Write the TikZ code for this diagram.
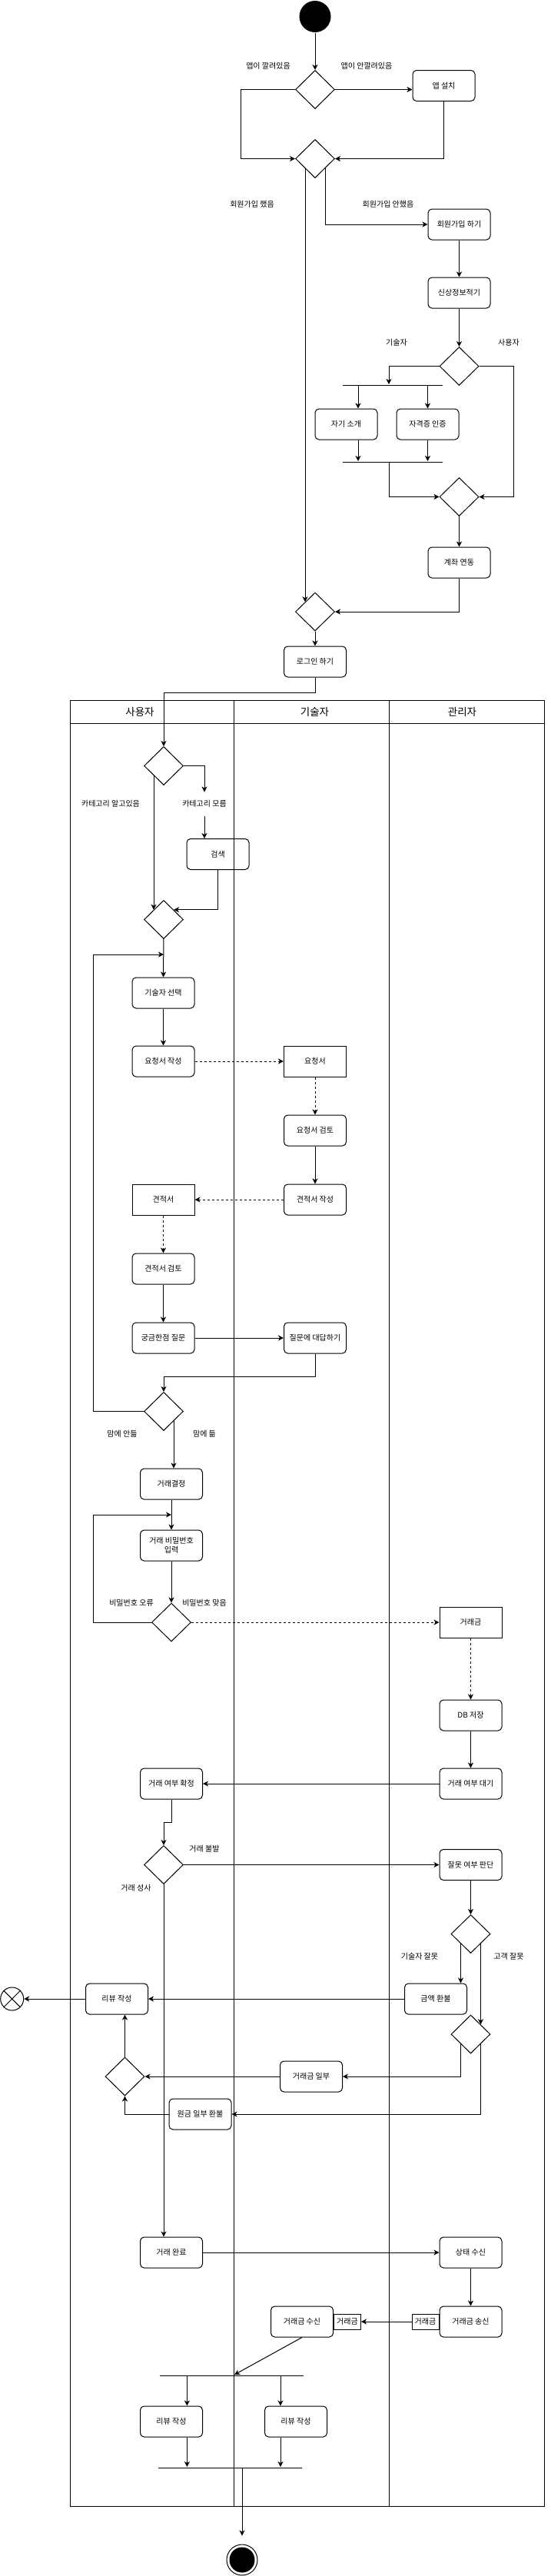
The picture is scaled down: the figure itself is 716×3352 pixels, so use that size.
\documentclass[tikz,border=0pt]{standalone}
\usepackage{fontspec}
\setmainfont{Noto Sans CJK KR}
\usetikzlibrary{shapes.geometric,arrows.meta,calc}
\newcommand\boxfont{\fontsize{10pt}{12pt}\selectfont}
\newcommand\headfont{\fontsize{13.5pt}{16pt}\selectfont}
\begin{document}
\begin{tikzpicture}[x=1pt,y=-1pt,line width=1pt,
 act/.style={draw, rounded corners=5pt, minimum width=81pt, minimum height=40pt, inner sep=1pt, font=\boxfont, align=center},
 obj/.style={draw, minimum width=81pt, minimum height=40pt, inner sep=1pt, font=\boxfont},
 dec/.style={draw, diamond, minimum width=51pt, minimum height=50pt, inner sep=0pt},
 bar/.style={fill=black, minimum height=1pt, inner sep=0pt},
 lbl/.style={font=\boxfont, inner sep=1pt},
 arr/.style={-{Stealth[length=7pt,width=7pt,inset=2pt]}},
 dsh/.style={arr, dash pattern=on 3pt off 3pt},
 pin/.style={draw, minimum width=35pt, minimum height=20pt, inner sep=0pt, font=\boxfont}]
\useasboundingbox (0,0) rectangle (716,3352);

% ---------- top part ----------
\node[circle, fill=black, minimum size=41pt, inner sep=0pt] (start) at (410,21.5) {};
\node[dec] (d1) at (410,116.5) {};
\node[act] (appinst) at (577.5,111.5) {앱 설치};
\node[lbl] at (349,86) {앱이 깔려있음};
\node[lbl] at (477,86) {앱이 안깔려있음};
\node[dec] (d2) at (410,206.5) {};
\node[lbl] at (328,266) {회원가입 했음};
\node[lbl] at (505,266) {회원가입 안했음};
\node[act] (signup) at (597.5,292) {회원가입 하기};
\node[act] (profile) at (597.5,381) {신상정보적기};
\node[dec] (d3) at (597.5,476.5) {};
\node[lbl] at (516,446) {기술자};
\node[lbl] at (662,446) {사용자};
\node[bar, minimum width=130pt] (fork1) at (511,501) {};
\node[act] (intro) at (450.5,552) {자기 소개};
\node[act] (cert) at (556.5,552) {자격증 인증};
\node[bar, minimum width=130pt] (join1) at (511,601) {};
\node[dec] (d4) at (597.5,646.5) {};
\node[act] (acct) at (597.5,732) {계좌 연동};
\node[dec] (d5) at (410,796) {};
\node[act] (login) at (410,861) {로그인 하기};

\draw[arr] (start) -- (d1);
\draw[arr] (d1.east) -- (d1.east -| appinst.west);
\draw[arr] (d1.west) -- ++(-70.5,0) |- (d2.west);
\draw[arr] (appinst.south) |- (d2.east);
\draw[arr] (d2.south east) |- (signup.west);
\draw[arr] (d2.south west) -- (d2.south west |- d5.north west);
\draw[arr] (signup) -- (profile);
\draw[arr] (profile) -- (d3);
\draw[arr] (d3.west) -| ([xshift=-5pt]fork1.north);
\draw[arr] ([xshift=-45pt]fork1.south) -- ([xshift=15.5pt]intro.north);
\draw[arr] (fork1.south -| cert.north) -- (cert.north);
\draw[arr] ([xshift=15.5pt]intro.south) -- ([xshift=15.5pt]intro.south |- join1.north);
\draw[arr] (cert.south) -- (cert.south |- join1.north);
\draw[arr] ([xshift=-5pt]join1.south) |- (d4.west);
\draw[arr] (d3.east) -- ++(45,0) |- (d4.east);
\draw[arr] (d4) -- (acct);
\draw[arr] (acct.south) |- (d5.east);
\draw[arr] (d5) -- (login);

% ---------- swimlanes ----------
\draw (91.5,911) rectangle (708,3261);
\draw (91.5,941) -- (708,941);
\draw (304,911) -- (304,3261);
\draw (506,911) -- (506,3261);
\node[font=\headfont] (hU) at (182,926) {사용자};
\node[font=\headfont] (hT) at (409.5,926) {기술자};
\node[font=\headfont] (hA) at (601.5,926) {관리자};

% ---------- user lane ----------
\node[dec] (d6) at (213,996.5) {};
\draw[arr] (login.south) -- ++(0,20) -| (d6.north);
\node[lbl] at (144,1046) {카테고리 알고있음};
\node[lbl, minimum height=30pt] (catno) at (266,1046) {카테고리 모름};
\node[act] (search) at (283.5,1111.5) {검색};
\node[dec] (d7) at (213,1196.5) {};
\draw[arr] (d6.east) -| (catno.north);
\draw[arr] (catno.south) -- (catno.south |- search.north);
\draw[arr] (d6.south west) -- (d6.south west |- d7.north west);
\draw[arr] (search.south) |- (d7.north east);

\node[act] (techsel) at (212.5,1292) {기술자 선택};
\coordinate (m1) at (213,1242);
\draw[arr] (d7) -- (techsel);
\node[act] (reqw) at (212.5,1381) {요청서 작성};
\draw[arr] (techsel) -- (reqw);
\node[obj] (req) at (410,1381) {요청서};
\draw[dsh] (reqw) -- (req);
\node[act] (reqr) at (410,1471) {요청서 검토};
\draw[dsh] (req) -- (reqr);
\node[act] (estw) at (410,1561) {견적서 작성};
\draw[arr] (reqr) -- (estw);
\node[obj] (est) at (212.5,1561) {견적서};
\draw[dsh] (estw) -- (est);
\node[act] (estr) at (212.5,1651) {견적서 검토};
\draw[dsh] (est) -- (estr);
\node[act] (ask) at (212.5,1741) {궁금한점 질문};
\draw[arr] (estr) -- (ask);
\node[act] (answer) at (410,1741) {질문에 대답하기};
\draw[arr] (ask) -- (answer);
\node[dec] (d8) at (213,1836.5) {};
\draw[arr] (answer.south) -- ++(0,30) -| (d8.north);
\draw[arr] (d8.west) -- ++(-65.5,0) |- (m1);
\node[lbl] at (159,1866) {맘에 안듦};
\node[lbl] at (266,1866) {맘에 듦};
\node[act] (decide) at (223,1931) {거래결정};
\draw[arr] (d8.south east) -- (d8.south east |- decide.north);
\node[act] (pwd) at (223,2011) {거래 비밀번호\\입력};
\coordinate (m2) at ($(decide.south)!0.5!(pwd.north)$);
\draw[arr] (decide) -- (pwd);
\node[dec] (d9) at (223,2111) {};
\draw[arr] (pwd) -- (d9);
\draw[arr] (d9.west) -- ++(-76,0) |- (m2);
\node[lbl] at (171,2086) {비밀번호 오류};
\node[lbl] at (266,2086) {비밀번호 맞음};
\node[obj] (fee) at (612.5,2111) {거래금};
\draw[dsh] (d9.east) -- (fee.west);
\node[act] (db) at (612.5,2232) {DB 저장};
\draw[dsh] (fee) -- (db);
\node[act] (wait) at (612.5,2321) {거래 여부 대기};
\draw[arr] (db) -- (wait);
\node[act] (confirm) at (223,2321) {거래 여부 확정};
\draw[arr] (wait) -- (confirm);
\node[dec] (d10) at (213,2426.5) {};
\draw[arr] (confirm.south) -- ++(0,30) -| (d10.north);
\node[act] (judge) at (612.5,2426.5) {잘못 여부 판단};
\draw[arr] (d10.east) -- (judge.west);
\node[lbl] at (266,2406) {거래 불발};
\node[lbl] at (177,2457) {거래 성사};
\node[dec] (d11) at (612.5,2516.5) {};
\draw[arr] (judge) -- (d11);
\node[lbl] at (546,2546) {기술자 잘못};
\node[lbl] at (662,2546) {고객 잘못};
\node[act] (refund) at (567,2601) {금액 환불};
\draw[arr] (d11.south west) -- (d11.south west |- refund.north);
\node[act] (rev1) at (152,2601) {리뷰 작성};
\draw[arr] (refund) -- (rev1);
\node[circle, draw, minimum size=30pt, inner sep=0pt] (ff) at (15.7,2601) {};
\draw (ff.north west) -- (ff.south east) (ff.north east) -- (ff.south west);
\draw[arr] (rev1) -- (ff);
\node[dec] (d12) at (612.5,2647) {};
\draw[arr] (d11.south east) -- (d11.south east |- d12.north east);
\node[act] (part) at (405,2702) {거래금 일부};
\draw[arr] (d12.south west) |- (part.east);
\node[dec] (d13) at (162.5,2702) {};
\draw[arr] (part) -- (d13);
\node[act] (prin) at (260.5,2751) {원금 일부 환불};
\draw[arr] (d12.south east) |- (prin.east);
\draw[arr] (prin.west) -| (d13.south);
\draw[arr] (d13.north) -- (d13.north |- rev1.south);

\node[act] (done) at (223,2931) {거래 완료};
\draw[arr] (d10.south) -- (d10.south |- done.north);
\node[act] (recv) at (612.5,2931) {상태 수신};
\draw[arr] (done) -- (recv);
\node[act] (send) at (612.5,3021) {거래금 송신};
\draw[arr] (recv) -- (send);
\node[pin, anchor=east] (pin1) at (send.west) {거래금};
\node[act] (get) at (393,3021) {거래금 수신};
\node[pin, anchor=west] (pin2) at (get.east) {거래금};
\draw[arr] (pin1) -- (pin2);
\node[bar, minimum width=187pt] (fork2) at (301.5,3091) {};
\draw[arr] (get.south) -- ([xshift=3.5pt]fork2.north);
\node[act] (rev2) at (223,3151) {리뷰 작성};
\node[act] (rev3) at (385,3151) {리뷰 작성};
\draw[arr] ([xshift=20.4pt]rev2.north |- fork2.south) -- ([xshift=20.4pt]rev2.north);
\draw[arr] ([xshift=-20pt]rev3.north |- fork2.south) -- ([xshift=-20pt]rev3.north);
\node[bar, minimum width=187pt] (join2) at (299,3211) {};
\draw[arr] ([xshift=20.4pt]rev2.south) -- ([xshift=20.4pt]rev2.south |- join2.north);
\draw[arr] ([xshift=-20pt]rev3.south) -- ([xshift=-20pt]rev3.south |- join2.north);
\node[circle, draw, minimum size=40pt, inner sep=0pt] (end) at (315,3331) {};
\fill (end.center) circle (16.5pt);
\draw[arr] (join2.south -| end.north) -- ([yshift=11pt]end.north);
\end{tikzpicture}
\end{document}
